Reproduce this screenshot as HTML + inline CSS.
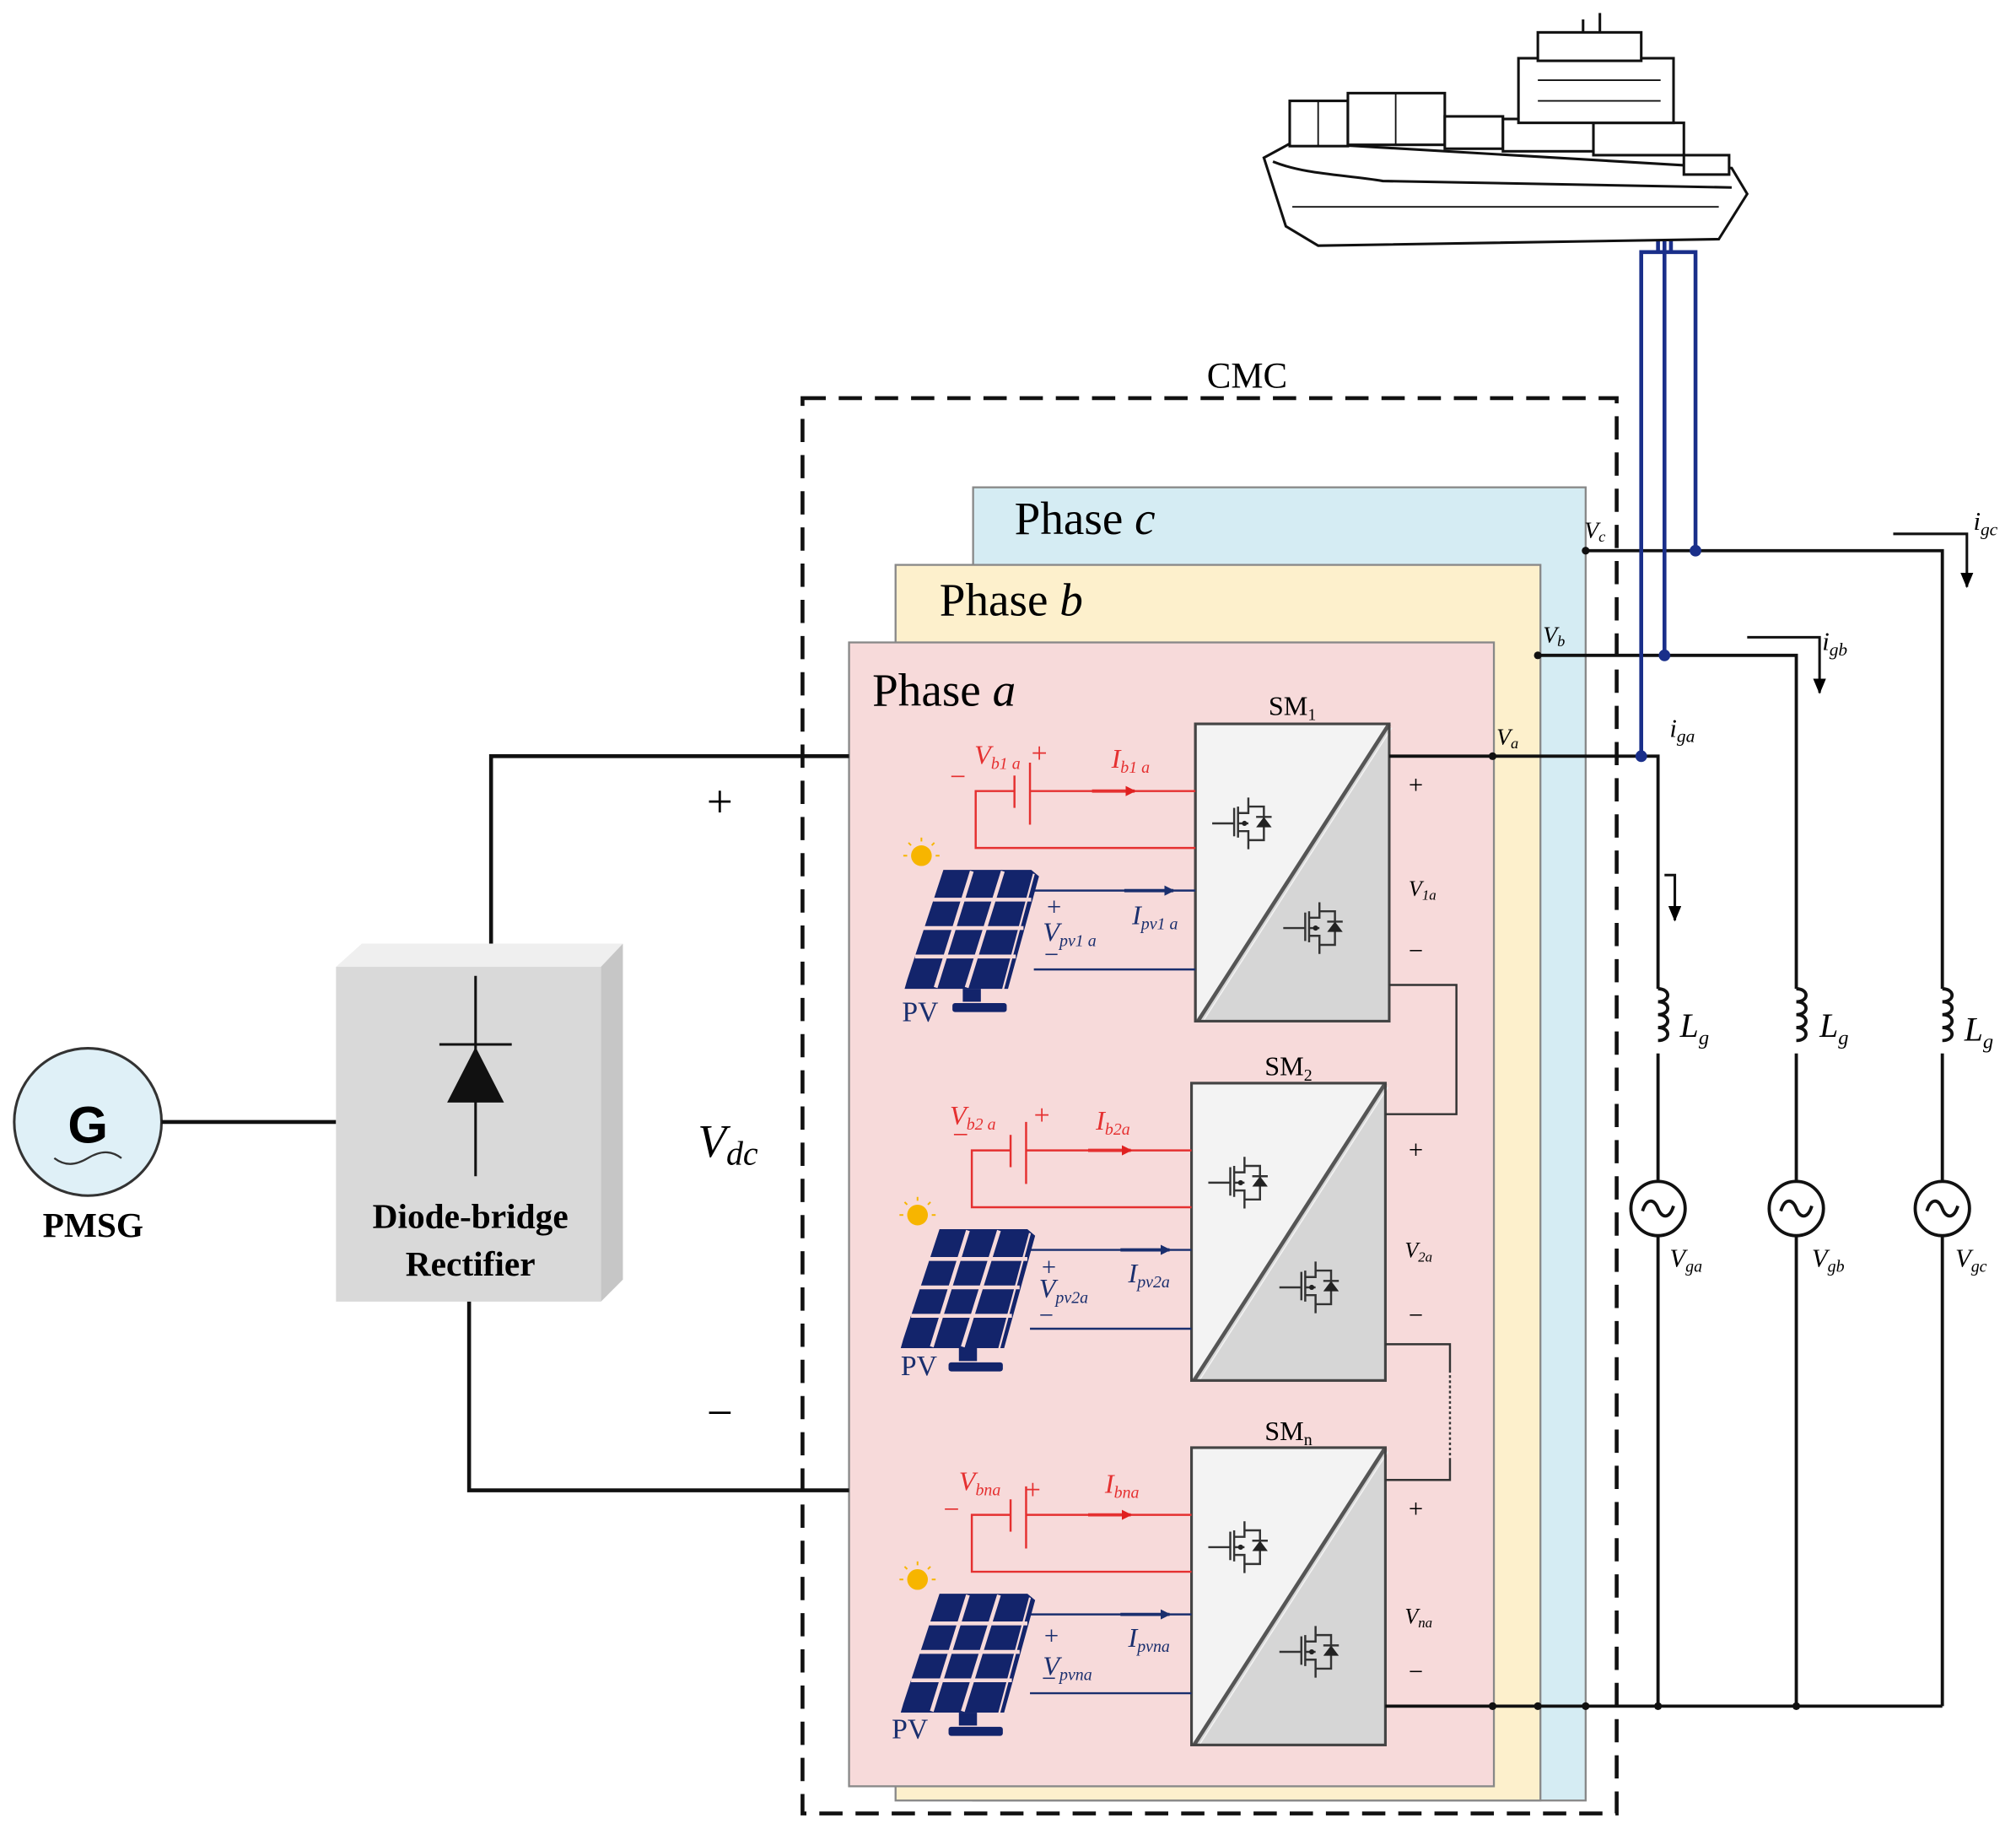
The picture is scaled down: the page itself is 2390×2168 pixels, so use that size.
<!DOCTYPE html>
<html><head><meta charset="utf-8"><style>
html,body{margin:0;padding:0;background:#fff;}
svg{display:block;}
text{font-family:"Liberation Serif",serif;}
</style></head><body>
<svg width="2390" height="2168" viewBox="0 0 1560 1415" xmlns="http://www.w3.org/2000/svg">
<defs>
<marker id="ar" markerWidth="8" markerHeight="8" refX="7" refY="4" orient="auto" markerUnits="userSpaceOnUse"><path d="M0,0 L8,4 L0,8 z" fill="#e02020"/></marker>
<marker id="ab" markerWidth="8" markerHeight="8" refX="7" refY="4" orient="auto" markerUnits="userSpaceOnUse"><path d="M0,0 L8,4 L0,8 z" fill="#1a2f6e"/></marker>
<marker id="ak" markerWidth="12" markerHeight="10" refX="11" refY="5" orient="auto" markerUnits="userSpaceOnUse"><path d="M0,0 L12,5 L0,10 z" fill="#000"/></marker>
<g id="tr" stroke="#333" stroke-width="1.6" fill="none">
  <line x1="0" y1="25" x2="17" y2="25"/>
  <line x1="17" y1="13" x2="17" y2="35"/>
  <line x1="20" y1="12" x2="20" y2="36"/>
  <polyline points="20,17 28,17 28,5"/>
  <polyline points="20,31 28,31 28,45"/>
  <polyline points="28,25 20,25"/>
  <polyline points="28,12 40,12 40,38 28,38"/>
  <path d="M34,28 L46,28 L40,20 z" fill="#222" stroke="none"/>
  <line x1="34" y1="20" x2="46" y2="20"/>
  <circle cx="25" cy="25" r="2" fill="#222" stroke="none"/>
</g>
<g id="sm">
  <rect x="925" y="560" width="150" height="230" fill="#f3f3f3" stroke="#444" stroke-width="2"/>
  <polygon points="929,790 1075,562 1075,790" fill="#d6d6d6"/>
  <line x1="927" y1="790" x2="1075" y2="560" stroke="#555" stroke-width="3"/>
  <line x1="931" y1="790" x2="1077" y2="563" stroke="#f3f3f3" stroke-width="1"/>
  <rect x="925" y="560" width="150" height="230" fill="none" stroke="#444" stroke-width="2"/>
  <use href="#tr" x="938" y="612"/>
  <use href="#tr" x="993" y="693"/>
  <g stroke="#e53030" stroke-width="1.6" fill="none">
    <polyline points="925,612 797,612"/>
    <polyline points="785,612 755,612 755,656 925,656"/>
    <line x1="785" y1="600" x2="785" y2="625"/>
    <line x1="797" y1="590" x2="797" y2="638"/>
    <line x1="845" y1="612" x2="878" y2="612" stroke-width="2.5" marker-end="url(#ar)"/>
  </g>
  <g stroke="#1a2f6e" stroke-width="1.6" fill="none">
    <line x1="800" y1="689" x2="925" y2="689"/>
    <line x1="800" y1="750" x2="925" y2="750"/>
    <line x1="870" y1="689" x2="908" y2="689" stroke-width="2.5" marker-end="url(#ab)"/>
  </g>
  <circle cx="713" cy="662" r="8" fill="#f7b500"/>
  <g stroke="#f7b500" stroke-width="1.3">
    <line x1="713" y1="648" x2="713" y2="651"/><line x1="699" y1="662" x2="702" y2="662"/><line x1="724" y1="662" x2="727" y2="662"/>
    <line x1="703" y1="652" x2="705" y2="654"/><line x1="723" y1="652" x2="721" y2="654"/>
  </g>
  <g fill="#13246b">
    <polygon points="730,673 798,673 804,678 780,765 700,765 702,758"/>
  </g>
  <g stroke="#f7dada" stroke-width="3">
    <line x1="752" y1="674" x2="724" y2="764"/><line x1="776" y1="674" x2="748" y2="764"/>
    <line x1="722" y1="696" x2="798" y2="696"/><line x1="714" y1="718" x2="792" y2="718"/><line x1="708" y1="740" x2="786" y2="740"/>
    <line x1="800" y1="676" x2="776" y2="766" stroke-width="1.5"/>
  </g>
  <rect x="745" y="765" width="14" height="10" fill="#13246b"/>
  <rect x="737" y="776" width="42" height="7" rx="2" fill="#13246b"/>
</g>
</defs>

<rect x="621" y="308" width="630" height="1095" fill="none" stroke="#111" stroke-width="3" stroke-dasharray="18,10"/>
<text x="965" y="300" font-size="28" text-anchor="middle">CMC</text>

<rect x="753" y="377" width="474" height="1016" fill="#d5ecf3" stroke="#888" stroke-width="1.5"/>
<rect x="693" y="437" width="499" height="956" fill="#fdf0cc" stroke="#888" stroke-width="1.5"/>
<rect x="657" y="497" width="499" height="885" fill="#f7dada" stroke="#888" stroke-width="1.5"/>
<text x="785" y="413" font-size="36">Phase <tspan font-style="italic">c</tspan></text>
<text x="727" y="476" font-size="36">Phase <tspan font-style="italic">b</tspan></text>
<text x="675" y="546" font-size="36">Phase <tspan font-style="italic">a</tspan></text>

<use href="#sm"/>
<use href="#sm" x="-3" y="278"/>
<use href="#sm" x="-3" y="560"/>

<g font-size="21">
<text x="1000" y="553" text-anchor="middle">SM<tspan font-size="13" dy="4">1</tspan></text>
<text x="997" y="832" text-anchor="middle">SM<tspan font-size="13" dy="4">2</tspan></text>
<text x="997" y="1114" text-anchor="middle">SM<tspan font-size="13" dy="4">n</tspan></text>
</g>

<g fill="#e53030" font-style="italic" font-size="21">
<text x="754" y="591">V<tspan font-size="13" dy="4">b1 a</tspan></text>
<text x="860" y="594">I<tspan font-size="13" dy="4">b1 a</tspan></text>
<text x="735" y="870">V<tspan font-size="13" dy="4">b2 a</tspan></text>
<text x="848" y="874">I<tspan font-size="13" dy="4">b2a</tspan></text>
<text x="742" y="1153">V<tspan font-size="13" dy="4">bna</tspan></text>
<text x="855" y="1155">I<tspan font-size="13" dy="4">bna</tspan></text>
</g>
<g fill="#e53030" font-size="22">
<text x="798" y="590">+</text><text x="735" y="608">−</text>
<text x="800" y="870">+</text><text x="737" y="885">−</text>
<text x="793" y="1160">+</text><text x="730" y="1175">−</text>
</g>
<g fill="#1a2f6e" font-style="italic" font-size="21">
<text x="876" y="715">I<tspan font-size="13" dy="4">pv1 a</tspan></text>
<text x="807" y="728">V<tspan font-size="13" dy="4">pv1 a</tspan></text>
<text x="873" y="992">I<tspan font-size="13" dy="4">pv2a</tspan></text>
<text x="804" y="1004">V<tspan font-size="13" dy="4">pv2a</tspan></text>
<text x="873" y="1274">I<tspan font-size="13" dy="4">pvna</tspan></text>
<text x="807" y="1296">V<tspan font-size="13" dy="4">pvna</tspan></text>
</g>
<g fill="#1a2f6e" font-size="20">
<text x="810" y="708">+</text><text x="808" y="745">−</text>
<text x="806" y="987">+</text><text x="804" y="1024">−</text>
<text x="808" y="1272">+</text><text x="806" y="1305">−</text>
<text x="698" y="790" font-size="22">PV</text>
<text x="697" y="1064" font-size="22">PV</text>
<text x="690" y="1345" font-size="22">PV</text>
</g>

<g font-size="20">
<text x="1090" y="614">+</text><text x="1090" y="742">−</text>
<text x="1090" y="896">+</text><text x="1090" y="1024">−</text>
<text x="1090" y="1174">+</text><text x="1090" y="1300">−</text>
</g>
<g font-size="17" font-style="italic">
<text x="1090" y="693">V<tspan font-size="11" dy="3">1a</tspan></text>
<text x="1087" y="973">V<tspan font-size="11" dy="3">2a</tspan></text>
<text x="1087" y="1256">V<tspan font-size="11" dy="3">na</tspan></text>
</g>

<g stroke="#333" stroke-width="1.6" fill="none">
<polyline points="1075,762 1127,762 1127,862 1072,862"/>
<polyline points="1072,1040 1122,1040 1122,1060"/>
<line x1="1122" y1="1060" x2="1122" y2="1128" stroke-dasharray="2,2"/>
<polyline points="1122,1128 1122,1145 1072,1145"/>
</g>

<g stroke="#111" stroke-width="2.5" fill="none">
<polyline points="1075,585 1283,585 1283,1320"/>
<polyline points="1190,507 1390,507 1390,1320"/>
<polyline points="1227,426 1503,426 1503,1320"/>
<line x1="1072" y1="1320" x2="1503" y2="1320"/>
</g>
<g fill="#111">
<circle cx="1155" cy="585" r="3"/><circle cx="1190" cy="507" r="3"/><circle cx="1227" cy="426" r="3"/>
<circle cx="1155" cy="1320" r="3"/><circle cx="1190" cy="1320" r="3"/><circle cx="1227" cy="1320" r="3"/>
<circle cx="1283" cy="1320" r="3"/><circle cx="1390" cy="1320" r="3"/>
</g>
<g font-size="18" font-style="italic">
<text x="1158" y="576">V<tspan font-size="12" dy="3">a</tspan></text>
<text x="1194" y="497">V<tspan font-size="12" dy="3">b</tspan></text>
<text x="1226" y="416">V<tspan font-size="12" dy="3">c</tspan></text>
</g>

<g id="ls">
<rect x="1277" y="765" width="14" height="50" fill="#fff"/>
<path d="M1283,765 c10,0 10,10 0,10 c10,0 10,10 0,10 c10,0 10,10 0,10 c10,0 10,10 0,10" stroke="#111" stroke-width="2.5" fill="none"/>
<circle cx="1283" cy="935" r="21" fill="#fff" stroke="#111" stroke-width="2.5"/>
<path d="M1271,937 c3,-10 9,-10 12,-2 c3,8 9,8 12,-2" stroke="#111" stroke-width="2.5" fill="none"/>
</g>
<use href="#ls" x="107"/>
<use href="#ls" x="220"/>
<g font-size="26" font-style="italic">
<text x="1300" y="802">L<tspan font-size="16" dy="6">g</tspan></text>
<text x="1408" y="802">L<tspan font-size="16" dy="6">g</tspan></text>
<text x="1520" y="805">L<tspan font-size="16" dy="6">g</tspan></text>
</g>
<g font-size="20" font-style="italic">
<text x="1292" y="980">V<tspan font-size="13" dy="4">ga</tspan></text>
<text x="1402" y="980">V<tspan font-size="13" dy="4">gb</tspan></text>
<text x="1513" y="980">V<tspan font-size="13" dy="4">gc</tspan></text>
<text x="1292" y="570">i<tspan font-size="14" dy="4">ga</tspan></text>
<text x="1410" y="503">i<tspan font-size="14" dy="4">gb</tspan></text>
<text x="1527" y="410">i<tspan font-size="14" dy="4">gc</tspan></text>
</g>
<g stroke="#111" stroke-width="2" fill="none">
<polyline points="1288,677 1296,677 1296,712" marker-end="url(#ak)"/>
<polyline points="1352,493 1408,493 1408,536" marker-end="url(#ak)"/>
<polyline points="1465,413 1522,413 1522,454" marker-end="url(#ak)"/>
</g>

<g stroke="#1a2f8a" stroke-width="3" fill="none">
<polyline points="1270,585 1270,195 1312,195 1312,426"/>
<line x1="1288" y1="507" x2="1288" y2="168"/>
<line x1="1283" y1="168" x2="1283" y2="195"/><line x1="1293" y1="168" x2="1293" y2="195"/>
</g>
<g fill="#1a2f8a"><circle cx="1270" cy="585" r="4.5"/><circle cx="1288" cy="507" r="4.5"/><circle cx="1312" cy="426" r="4.5"/></g>

<g stroke="#111" stroke-width="2" fill="#fff">
<path d="M978,122 L1000,110 L1340,130 L1352,150 L1330,185 L1020,190 L995,175 Z"/>
<path d="M985,125 C1010,135 1040,135 1070,140 L1340,145"/>
<rect x="998" y="78" width="45" height="35"/><rect x="1043" y="72" width="75" height="40"/>
<rect x="1118" y="90" width="45" height="25"/><rect x="1163" y="92" width="70" height="25"/>
<rect x="1233" y="95" width="70" height="25"/><rect x="1303" y="120" width="35" height="15"/>
<rect x="1175" y="45" width="120" height="50"/><rect x="1190" y="25" width="80" height="22"/>
<line x1="1238" y1="10" x2="1238" y2="25"/><line x1="1225" y1="15" x2="1225" y2="25"/>
</g>
<g stroke="#111" stroke-width="1.2">
<line x1="1020" y1="78" x2="1020" y2="113"/><line x1="1080" y1="72" x2="1080" y2="112"/>
<line x1="1190" y1="62" x2="1285" y2="62"/><line x1="1190" y1="78" x2="1285" y2="78"/>
<line x1="1000" y1="160" x2="1330" y2="160"/>
</g>

<circle cx="68" cy="868" r="57" fill="#dff0f7" stroke="#333" stroke-width="2"/>
<text x="68" y="884" font-weight="bold" font-size="40" text-anchor="middle" style="font-family:'Liberation Sans',sans-serif">G</text>
<path d="M42,896 c8,6 16,6 26,0 c10,-6 18,-6 26,0" stroke="#333" stroke-width="1.5" fill="none"/>
<text x="72" y="957" font-size="27" font-weight="bold" text-anchor="middle">PMSG</text>
<line x1="125" y1="868" x2="260" y2="868" stroke="#111" stroke-width="3"/>

<polygon points="260,748 280,730 482,730 465,748" fill="#efefef"/>
<polygon points="465,748 482,730 482,990 465,1007" fill="#c6c6c6"/>
<rect x="260" y="748" width="205" height="259" fill="#d9d9d9"/>
<line x1="368" y1="755" x2="368" y2="910" stroke="#111" stroke-width="2"/>
<line x1="340" y1="808" x2="396" y2="808" stroke="#111" stroke-width="2"/>
<polygon points="346,853 390,853 368,810" fill="#111"/>
<text x="364" y="950" font-size="27" font-weight="bold" text-anchor="middle">Diode-bridge</text>
<text x="364" y="987" font-size="27" font-weight="bold" text-anchor="middle">Rectifier</text>

<g stroke="#111" stroke-width="3" fill="none">
<polyline points="380,730 380,585 657,585"/>
<polyline points="363,1007 363,1153 657,1153"/>
</g>
<text x="557" y="632" font-size="36" text-anchor="middle">+</text>
<text x="557" y="1105" font-size="36" text-anchor="middle">−</text>
<text x="540" y="895" font-size="36" font-style="italic">V<tspan font-size="26" dy="6">dc</tspan></text>
</svg>
</body></html>
